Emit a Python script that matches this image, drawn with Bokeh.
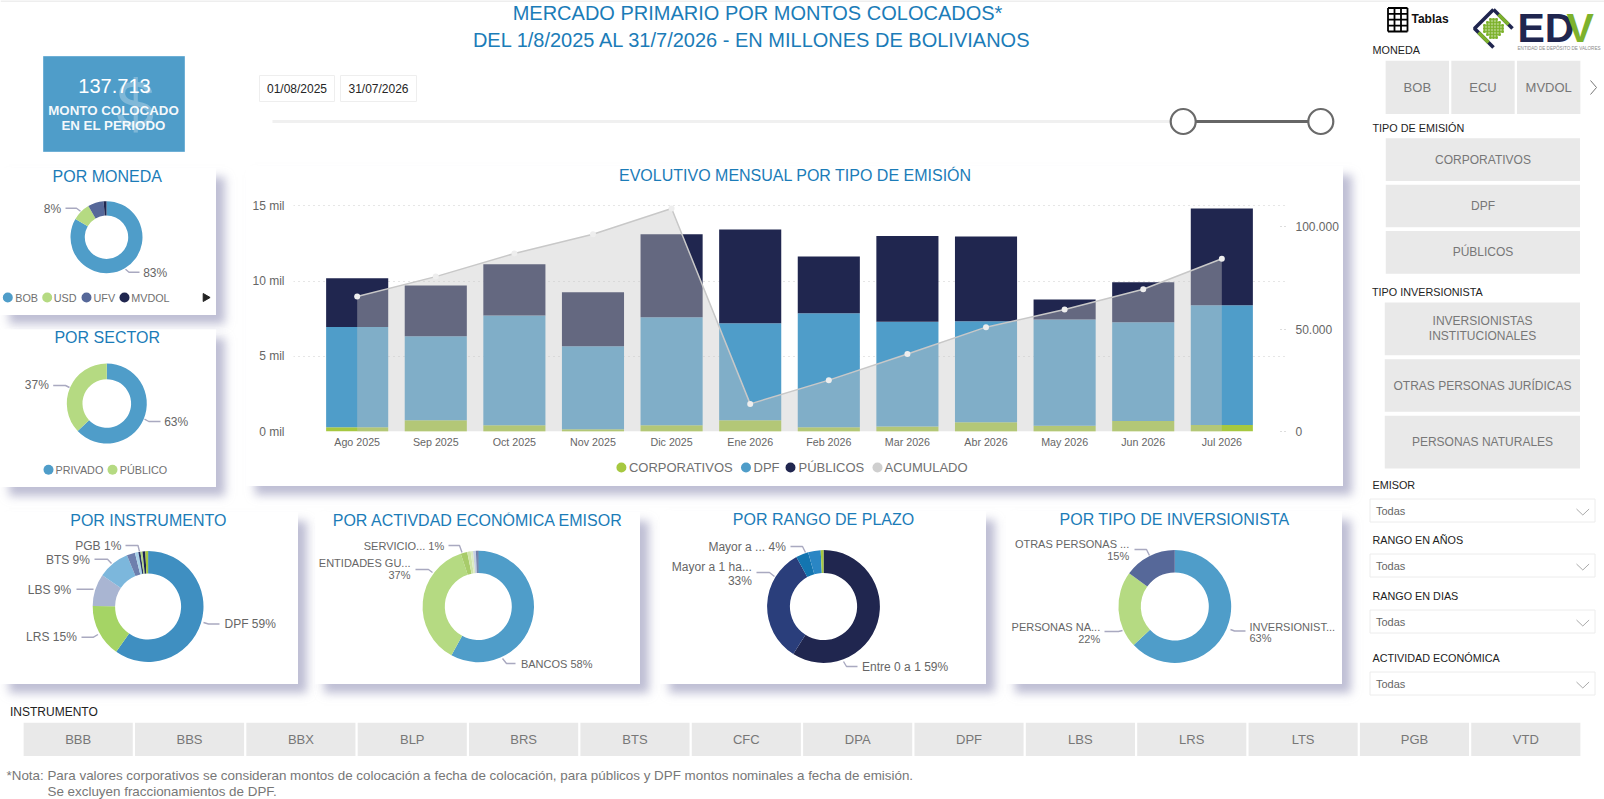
from bokeh.embed import file_html
from bokeh.resources import INLINE
from bokeh.core.properties import value
from bokeh.models import (ColumnDataSource, FactorRange, Range1d, LinearAxis, FixedTicker, Pane)
from bokeh.plotting import figure
import math

# ---------- data ----------
MONTHS = ["Ago 2025", "Sep 2025", "Oct 2025", "Nov 2025", "Dic 2025", "Ene 2026",
          "Feb 2026", "Mar 2026", "Abr 2026", "May 2026", "Jun 2026", "Jul 2026"]
CORPORATIVOS = [290, 750, 420, 150, 420, 750, 290, 330, 620, 380, 690, 440]
DPF = [6650, 5590, 7290, 5520, 7180, 6450, 7580, 6960, 6710, 7070, 6580, 7960]
PUBLICOS = [3250, 3360, 3410, 3590, 5520, 6230, 3760, 5710, 5630, 1320, 2660, 6420]
ACUMULADO = [66000, 75700, 87000, 96400, 109000, 13500, 25100, 37900, 51000, 59600, 69500, 84400]
LEFT_TICKS = [0, 5000, 10000, 15000]
LEFT_TICK_LABELS = ["0 mil", "5 mil", "10 mil", "15 mil"]
RIGHT_TICKS = [0, 50000, 100000]
RIGHT_TICK_LABELS = ["0", "50.000", "100.000"]
SERIES_NAMES = ["CORPORATIVOS", "DPF", "PÚBLICOS", "ACUMULADO"]

MONEDA_NAMES = ["BOB", "USD", "UFV", "MVDOL"]
MONEDA_VALUES = [83.4, 8.2, 7.1, 1.3]
SECTOR_NAMES = ["PRIVADO", "PÚBLICO"]
SECTOR_VALUES = [63, 37]
INSTRUMENTO_VALUES = [59.4, 15.3, 9.3, 9.2, 2.4, 1.0, 0.6, 0.6, 0.8, 0.8]
ACTIVIDAD_VALUES = [58.0, 36.9, 1.9, 1.0, 0.7, 0.8, 0.5, 0.2]
PLAZO_VALUES = [59.0, 33.0, 3.6, 3.6, 0.8]
INVERSIONISTA_VALUES = [63, 22, 15]

KPI_VALUE = "137.713"
DATE_FROM = "01/08/2025"
DATE_TO = "31/07/2026"
MONEDA_BUTTONS = ["BOB", "ECU", "MVDOL"]
EMISION_BUTTONS = ["CORPORATIVOS", "DPF", "PÚBLICOS"]
INVERSIONISTA_BUTTONS = ["INVERSIONISTAS\nINSTITUCIONALES", "OTRAS PERSONAS JURÍDICAS", "PERSONAS NATURALES"]
INSTRUMENTO_BUTTONS = ["BBB", "BBS", "BBX", "BLP", "BRS", "BTS", "CFC", "DPA", "DPF", "LBS", "LRS", "LTS", "PGB", "VTD"]

# ---------- style ----------
FONT = value("Liberation Sans")
BLUE = "#4f9dc9"
GREEN = "#a6c840"
NAVY = "#20264f"
LGREEN = "#b5da82"
SLATE = "#566899"
TITLE_C = "#1b7cb8"
TXT = "#666666"
BTN = "#e9e9e9"
LEAD = "#a9a9c0"
SHADOW = "9px 9px 9px rgba(150,150,185,0.62)"


def at(x, y):
    return {"position": "absolute", "left": f"{x}px", "top": f"{y}px"}


def blank(x0, y0, x1, y1, **kw):
    styles = at(x0, y0)
    styles.update(kw.pop("extra", {}))
    p = figure(width=x1 - x0, height=y1 - y0, x_range=Range1d(x0, x1), y_range=Range1d(y1, y0),
               x_axis_location=None, y_axis_location=None, min_border=0, outline_line_color=None,
               toolbar_location=None, output_backend="svg", styles=styles, tools="", **kw)
    p.grid.visible = False
    return p


def txt(p, x, y, s, size=12, color=TXT, align="left", style="normal", alpha=1.0):
    p.text(x=[x], y=[y], text=[s], text_font=FONT, text_font_size=f"{size}px", text_color=color,
           text_align=align, text_baseline="middle", text_font_style=style, text_alpha=alpha)


def legend_row(p, y, names, colors, marker_xs, text_xs, size):
    p.scatter(x=marker_xs, y=[y] * len(names), marker="circle", size=10, fill_color=colors, line_color=None)
    for tx, n in zip(text_xs, names):
        txt(p, tx, y, n, size, "#707070")


# ---------- page chrome ----------
bg = blank(0, 0, 1604, 799, background_fill_color="white")
bg.line([0, 1604], [0.5, 0.5], line_color="#eeeeee", line_width=2)
txt(bg, 757, 12.5, "MERCADO PRIMARIO POR MONTOS COLOCADOS*", 20, TITLE_C, "center")
txt(bg, 752, 39.5, "DEL 1/8/2025 AL 31/7/2026 - EN MILLONES DE BOLIVIANOS", 20, TITLE_C, "center")

bg.quad(left=[43], right=[184], top=[56], bottom=[151], fill_color=BLUE, line_color="#6fb0d6")
txt(bg, 135, 103, "$", 68, "white", "center", alpha=0.28)
txt(bg, 114, 85.5, KPI_VALUE, 20, "white", "center")
txt(bg, 113, 110, "MONTO COLOCADO", 13.3, "white", "center", "bold", 0.95)
txt(bg, 113, 125, "EN EL PERIODO", 13.3, "white", "center", "bold", 0.95)

for (x0, x1, s) in [(259, 334, DATE_FROM), (340, 416, DATE_TO)]:
    bg.quad(left=[x0], right=[x1], top=[75], bottom=[101], fill_color="white", line_color="#eeeeee")
    txt(bg, (x0 + x1) / 2, 88, s, 12, "#252525", "center")

bg.line([272, 1183], [121, 121], line_color="#f0f0f0", line_width=3)
bg.line([1183, 1320], [121, 121], line_color="#666666", line_width=3)
bg.circle(x=[1182.7, 1320.3], y=[121, 121], radius=12.5, fill_color="white", line_color="#6a6a6a", line_width=2.2)

# tablas icon
for gx in (1387.5, 1394, 1400.5, 1407):
    bg.line([gx, gx], [7.5, 31], line_color="black", line_width=1.8)
for gy in (7.5, 13.3, 19.2, 25.1, 31):
    bg.line([1387.5, 1407], [gy, gy], line_color="black", line_width=1.8)
txt(bg, 1411, 18.5, "Tablas", 12, "#111111", style="bold")

# EDV logo
bg.multi_line([[1493, 1474, 1493], [1512, 1493]], [[9, 28, 47], [28, 9]], line_color=NAVY, line_width=3.6)
bg.multi_line([[1478, 1488], [1498, 1508]], [[32, 42], [14, 24]], line_color="#7db22c", line_width=3.6)
for i in range(-3, 4):
    for j in range(-3, 4):
        if abs(i) + abs(j) <= 4:
            bg.scatter(x=[1493 + i * 3], y=[28 + j * 3], size=1.8, marker="square", color="#7db22c")
txt(bg, 1517, 27.5, "ED", 41, NAVY, style="bold")
txt(bg, 1566, 27.5, "V", 41, "#7db22c", style="bold")
txt(bg, 1517, 47.5, "ENTIDAD DE DEPÓSITO DE VALORES", 4.6, "#8a8a8a")

# slicer titles
txt(bg, 1372, 49.5, "MONEDA", 10.8, "#222222")
bg.line([1590, 1596, 1590], [80, 87, 94], line_color="#777777", line_width=1)
txt(bg, 1372, 127.5, "TIPO DE EMISIÓN", 10.8, "#222222")
txt(bg, 1371.5, 291.5, "TIPO INVERSIONISTA", 10.8, "#222222")
txt(bg, 9.5, 711.5, "INSTRUMENTO", 12, "#222222")

for (name, ylab, y0, y1) in [("EMISOR", 484.5, 498.5, 521.5), ("RANGO EN AÑOS", 539.5, 553.5, 576.5),
                             ("RANGO EN DIAS", 595.5, 609.5, 632.5), ("ACTIVIDAD ECONÓMICA", 657, 671.5, 694.5)]:
    txt(bg, 1372, ylab, name, 10.8, "#222222")
    bg.quad(left=[1369.5], right=[1594.5], top=[y0], bottom=[y1], fill_color="white", line_color="#ececec")
    txt(bg, 1375.5, (y0 + y1) / 2, "Todas", 11, TXT)
    yc = (y0 + y1) / 2 + 1.5
    bg.line([1576, 1582.3, 1588.6], [yc - 3, yc + 3, yc - 3], line_color="#aaaaaa", line_width=1)

txt(bg, 6, 774.5, "*Nota: Para valores corporativos se consideran montos de colocación a fecha de colocación, "
                  "para públicos y DPF montos nominales a fecha de emisión.", 13.4, "#777777")
txt(bg, 47, 790.5, "Se excluyen fraccionamientos de DPF.", 13.4, "#777777")


# ---------- slicer button strips ----------
def strip(labels, x0, y0, x1, y1, fill, vertical=False, size=13):
    factors = list(reversed(labels)) if vertical else list(labels)
    fr = FactorRange(factors=factors)
    lin = Range1d(0, 1)
    p = figure(width=round(x1 - x0), height=round(y1 - y0),
               x_range=lin if vertical else fr, y_range=fr if vertical else lin,
               x_axis_location=None, y_axis_location=None, min_border=0, outline_line_color=None,
               background_fill_color=None, border_fill_color=None, toolbar_location=None, tools="",
               output_backend="svg", styles=at(x0, y0))
    p.grid.visible = False
    src = ColumnDataSource(dict(f=factors, one=[1] * len(factors), half=[0.5] * len(factors)))
    common = dict(text="f", text_font=FONT, text_font_size=f"{size}px", text_color="#777777", text_align="center",
                  text_baseline="middle", text_line_height=1.08, source=src)
    if vertical:
        p.hbar(y="f", left=0, right="one", height=fill, fill_color=BTN, line_color=None, source=src)
        p.text(x="half", y="f", **common)
    else:
        p.vbar(x="f", bottom=0, top="one", width=fill, fill_color=BTN, line_color=None, source=src)
        p.text(x="f", y="half", **common)
    return p


strips = [
    strip(MONEDA_BUTTONS, 1384, 60, 1581, 114, 0.965),
    strip(EMISION_BUTTONS, 1385, 136, 1580, 275, 0.92, True, 12),
    strip(INVERSIONISTA_BUTTONS, 1384, 300, 1580, 470, 0.93, True, 12),
    strip(INSTRUMENTO_BUTTONS, 22, 722, 1581, 756, 0.98),
]


# ---------- donut panels ----------
def donut(rect, title, title_xy, center, r0, r1, values, colors, labels, leaders, label_size=12):
    x0, y0, x1, y1 = rect
    p = blank(x0, y0, x1, y1, background_fill_color="white", border_fill_color="white",
              extra={"box-shadow": SHADOW})
    total = sum(values)
    starts, ends, a = [], [], 0.0
    for v in values:
        starts.append(math.pi / 2 - a / total * 2 * math.pi)
        a += v
        ends.append(math.pi / 2 - a / total * 2 * math.pi)
    src = ColumnDataSource(dict(x=[center[0]] * len(values), y=[center[1]] * len(values),
                                s=starts, e=ends, c=colors))
    p.annular_wedge(x="x", y="y", inner_radius=r0, outer_radius=r1, start_angle="s", end_angle="e",
                    direction="clock", fill_color="c", line_color=None, source=src)
    txt(p, title_xy[0], title_xy[1], title, 16, TITLE_C, "center")
    for (tx, ty, s, al) in labels:
        txt(p, tx, ty, s, label_size, TXT, al)
    for xs, ys in leaders:
        p.line(xs, ys, line_color=LEAD, line_width=1.4)
    return p


moneda = donut((0, 168, 216, 315), "POR MONEDA", (106.7, 175.7), (106, 236.7), 21.7, 36,
               MONEDA_VALUES, [BLUE, LGREEN, SLATE, NAVY],
               [(60.7, 208, "8%", "right"), (142.7, 272, "83%", "left")],
               [([65, 76, 80], [207.7, 207.7, 210.7]), ([139, 128.5, 125], [271.7, 271.7, 268.7])])
legend_row(moneda, 297, MONEDA_NAMES, [BLUE, LGREEN, SLATE, NAVY], [7.3, 46.7, 86, 124], [14.7, 53.3, 93, 130.7], 10.8)
moneda.scatter(x=[205], y=[297], marker="triangle", angle=-math.pi / 2, size=8, color="#222222")

sector = donut((0, 329, 216, 487), "POR SECTOR", (106.7, 336.7), (106.3, 403), 24.3, 40,
               SECTOR_VALUES, [BLUE, LGREEN],
               [(48.3, 384.5, "37%", "right"), (163.7, 421, "63%", "left")],
               [([52.7, 65, 69], [385, 385, 387]), ([160, 148.3, 144], [421, 421, 418.7])])
legend_row(sector, 469.3, SECTOR_NAMES, [BLUE, LGREEN], [48, 112], [55, 119.3], 10.8)

instrumento = donut((0, 512, 298, 684), "POR INSTRUMENTO", (147.8, 519.7), (147.6, 606), 33, 55.4,
                    INSTRUMENTO_VALUES,
                    ["#3f8fc1", "#a5d465", "#a9b5d2", "#7cb7dc", "#6e7fad", "#a8d1e8", "#2b3566", "#b4d982", "#1f2552", "#a6c840"],
                    [(224, 623.5, "DPF 59%", "left"), (76.3, 636.5, "LRS 15%", "right"), (70.6, 589, "LBS 9%", "right"),
                     (89.4, 559, "BTS 9%", "right"), (120.8, 545.5, "PGB 1%", "right")],
                    [([219, 208, 203], [623.5, 623.5, 622]), ([81, 93, 97.5], [636.7, 636.7, 634]),
                     ([76, 93], [588.7, 588.7]), ([94, 107, 111], [558.7, 558.7, 563]),
                     ([125, 137.5, 139], [545, 545, 551])])

actividad = donut((315, 512, 640, 684), "POR ACTIVDAD ECONÓMICA EMISOR", (477.6, 519.7), (477.8, 606), 33.5, 55.7,
                  ACTIVIDAD_VALUES,
                  [BLUE, LGREEN, "#a8cc6a", "#cfe5a8", "#dcebc4", "#c6cfe2", "#6e7fad", "#2b3566"],
                  [(520.4, 663.5, "BANCOS 58%", "left"), (443.7, 545.5, "SERVICIO... 1%", "right"),
                   (410, 562.5, "ENTIDADES GU...", "right"), (410, 574.5, "37%", "right")],
                  [([515, 506, 502], [663, 663, 658]), ([448, 459, 461.5], [545, 545, 552]),
                   ([415, 428, 432], [569, 569, 572])], label_size=11)

plazo = donut((660, 511, 986, 684), "POR RANGO DE PLAZO", (823, 518.7), (823, 606), 33.6, 56.4,
              PLAZO_VALUES, [NAVY, "#2a3e7b", "#1375b0", "#2a86c4", "#a6c840"],
              [(861.6, 666, "Entre 0 a 1 59%", "left"), (785.3, 546.5, "Mayor a ... 4%", "right"),
               (751.4, 566.5, "Mayor a 1 ha...", "right"), (751.4, 580.5, "33%", "right")],
              [([857, 846, 843], [666, 666, 661]), ([790, 802, 805], [546, 546, 552]),
               ([756, 769, 774], [572, 572, 576])])

inversionista = donut((1006, 511, 1342, 684), "POR TIPO DE INVERSIONISTA", (1174, 518.7), (1174.3, 606), 34, 56.4,
                      INVERSIONISTA_VALUES, [BLUE, LGREEN, SLATE],
                      [(1249, 626, "INVERSIONIST...", "left"), (1249, 637.5, "63%", "left"),
                       (1099.7, 626.5, "PERSONAS NA...", "right"), (1099.7, 638.5, "22%", "right"),
                       (1128.7, 543.5, "OTRAS PERSONAS ...", "right"), (1128.7, 555.5, "15%", "right")],
                      [([1245, 1234, 1230], [630.5, 630.5, 629]), ([1104, 1118, 1122], [631, 631, 630]),
                       ([1134, 1146, 1149], [549, 549, 555])], label_size=11)

# ---------- monthly chart ----------
src = ColumnDataSource(dict(m=MONTHS, CORPORATIVOS=CORPORATIVOS, DPF=DPF, PUBLICOS=PUBLICOS,
                            ACUMULADO=ACUMULADO, zero=[0] * len(MONTHS)))
ev = figure(width=1097, height=320,
            x_range=FactorRange(factors=MONTHS, range_padding=0.31, range_padding_units="absolute"),
            y_range=Range1d(0, 16024),
            min_border_left=47, min_border_right=58, min_border_top=24, min_border_bottom=55,
            background_fill_color="white", border_fill_color="white", outline_line_color=None,
            toolbar_location=None, tools="", output_backend="svg",
            styles={**at(246, 166), "box-shadow": SHADOW})
ev.extra_y_ranges = {"acum": Range1d(0, 117790)}
ev.vbar_stack(["CORPORATIVOS", "DPF", "PUBLICOS"], x="m", width=0.79, color=[GREEN, BLUE, NAVY], line_color=None, source=src)
ev.varea(x="m", y1="zero", y2="ACUMULADO", y_range_name="acum", fill_color="#c8c8c8", fill_alpha=0.41, source=src)
ev.line(x="m", y="ACUMULADO", y_range_name="acum", line_color="#c8c8c8", line_width=1.5, source=src)
ev.scatter(x="m", y="ACUMULADO", y_range_name="acum", size=6, marker="circle", fill_color="#eeeeee", line_color=None, source=src)

ev.xgrid.visible = False
ev.ygrid.grid_line_color = "#cccccc"
ev.ygrid.grid_line_dash = [1, 4]
ev.ygrid.ticker = FixedTicker(ticks=LEFT_TICKS)

ev.xaxis.axis_line_color = None
ev.xaxis.major_tick_line_color = None
ev.xaxis.major_tick_out = 0
ev.xaxis.major_label_standoff = 4
ev.xaxis.major_label_text_font = "Liberation Sans"
ev.xaxis.major_label_text_font_size = "10.7px"
ev.xaxis.major_label_text_color = TXT
ev.yaxis.ticker = FixedTicker(ticks=LEFT_TICKS)
ev.yaxis.major_label_overrides = dict(zip(LEFT_TICKS, LEFT_TICK_LABELS))
right = LinearAxis(y_range_name="acum", ticker=FixedTicker(ticks=RIGHT_TICKS),
                   major_label_overrides=dict(zip(RIGHT_TICKS, RIGHT_TICK_LABELS)))
ev.add_layout(right, "right")
for ax, off in ((ev.yaxis[0], 9), (right, 10)):
    ax.axis_line_color = None
    ax.major_tick_line_color = None
    ax.minor_tick_line_color = None
    ax.major_tick_out = 0
    ax.major_label_standoff = off
    ax.major_label_text_font = "Liberation Sans"
    ax.major_label_text_font_size = "12px"
    ax.major_label_text_color = TXT
right.major_tick_line_color = "#bbbbbb"
right.major_tick_line_dash = [1, 3]
right.major_tick_in = 7

ev_title = blank(600, 166, 985, 186, background_fill_color=None, border_fill_color=None)
txt(ev_title, 795, 174.5, "EVOLUTIVO MENSUAL POR TIPO DE EMISIÓN", 16, TITLE_C, "center")
ev_legend = blank(600, 457, 985, 477, background_fill_color=None, border_fill_color=None)
legend_row(ev_legend, 467, SERIES_NAMES, [GREEN, BLUE, NAVY, "#cfcfcf"], [620.9, 745.5, 790, 877], [628.4, 753, 798, 884], 13)

# ---------- page ----------
root = Pane(elements=[bg] + strips + [moneda, sector, ev, ev_title, ev_legend, instrumento, actividad, plazo, inversionista],
            styles={"position": "relative", "width": "1604px", "height": "799px"})
open("out.html", "w").write(file_html(root, INLINE))
